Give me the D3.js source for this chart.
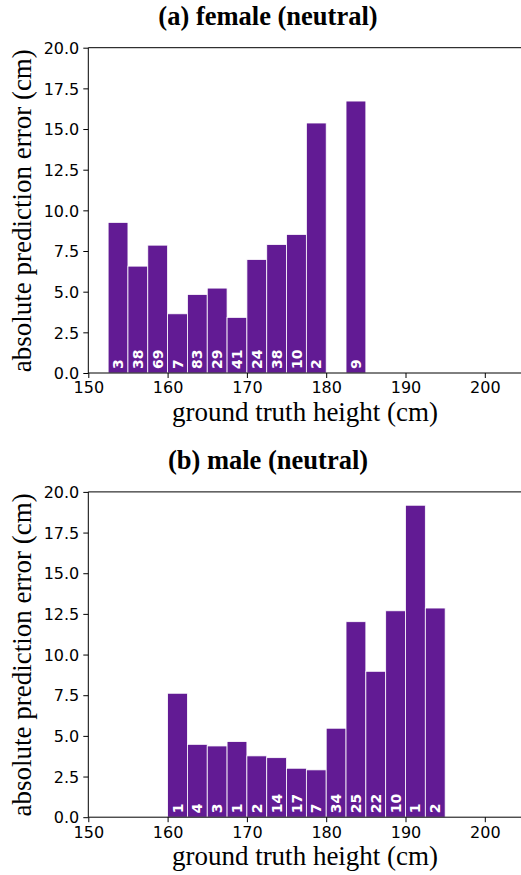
<!DOCTYPE html>
<html>
<head>
<meta charset="utf-8">
<script src="https://cdn.jsdelivr.net/npm/d3@7"></script>
<style>
  body { margin: 0; background: #fff; }
  svg { display: block; }
  .serif { font-family: "Liberation Serif", "DejaVu Serif", serif; }
  .sans { font-family: "DejaVu Sans", sans-serif; }
</style>
</head>
<body>
<svg id="chart" width="521" height="875"></svg>
<script>
// bin left edges (cm), bin width 2.5
const femaleBins = [152.5, 155, 157.5, 160, 162.5, 165, 167.5, 170, 172.5, 175, 177.5, 182.5];
const femaleError = [9.26, 6.57, 7.86, 3.64, 4.83, 5.22, 3.42, 6.98, 7.90, 8.52, 15.37, 16.72];
const femaleCount = [3, 38, 69, 7, 83, 29, 41, 24, 38, 10, 2, 9];

const maleBins = [160, 162.5, 165, 167.5, 170, 172.5, 175, 177.5, 180, 182.5, 185, 187.5, 190, 192.5];
const maleError = [7.62, 4.48, 4.38, 4.65, 3.77, 3.66, 3.01, 2.91, 5.47, 12.02, 8.97, 12.69, 19.18, 12.86];
const maleCount = [1, 4, 3, 1, 2, 14, 17, 7, 34, 25, 22, 10, 1, 2];

const xTicks = [150, 160, 170, 180, 190, 200];
const yTicks = [0, 2.5, 5, 7.5, 10, 12.5, 15, 17.5, 20];
const binWidth = 2.5;

const barColor = "#621b94";
const svg = d3.select("#chart");

function panel(title, bins, errors, counts, top) {
    const left = 88.3;
    const height = 325.3;
    const bottom = top + height;

    const x = d3.scaleLinear().domain([150, 205]).range([left, left + 55 * 7.93]);
    const y = d3.scaleLinear().domain([0, 20]).range([bottom, top]);

    const g = svg.append("g");

    // title
    g.append("text")
        .attr("class", "serif")
        .attr("x", 268)
        .attr("y", top - 23)
        .attr("text-anchor", "middle")
        .attr("font-weight", "bold")
        .attr("font-size", 26.5)
        .text(title);

    const data = bins.map((b, i) => ({ bin: b, err: errors[i], n: counts[i] }));

    g.selectAll(".bar")
        .data(data)
        .enter()
        .append("rect")
        .attr("class", "bar")
        .attr("x", d => x(d.bin))
        .attr("y", d => y(d.err))
        .attr("width", x(binWidth) - x(0))
        .attr("height", d => bottom - y(d.err))
        .attr("fill", barColor)
        .attr("stroke", "#fff")
        .attr("stroke-width", 0.8);

    g.selectAll(".cnt")
        .data(data)
        .enter()
        .append("text")
        .attr("class", "cnt sans")
        .attr("transform", d => `translate(${x(d.bin + binWidth / 2)},${bottom - 4}) rotate(-90)`)
        .attr("dy", "0.36em")
        .attr("fill", "#fff")
        .attr("font-weight", "bold")
        .attr("font-size", 14)
        .text(d => d.n);

    // axes
    const xAxis = g.append("g")
        .attr("transform", `translate(0,${bottom})`)
        .call(d3.axisBottom(x).tickValues(xTicks).tickSize(5).tickPadding(4).tickFormat(d3.format("d")));
    const yAxis = g.append("g")
        .attr("transform", `translate(${left},0)`)
        .call(d3.axisLeft(y).tickValues(yTicks).tickSize(5).tickPadding(4).tickFormat(d3.format(".1f")));

    [xAxis, yAxis].forEach(a => {
        a.attr("font-family", null).attr("font-size", null);
        a.selectAll("text")
            .attr("class", "sans")
            .attr("font-size", 16)
            .attr("fill", "#000");
        a.selectAll("line").attr("stroke", "#000");
        a.select(".domain").remove();
    });
    yAxis.selectAll("text").attr("dy", "0.36em");

    // spines
    g.append("line").attr("x1", left).attr("x2", 521).attr("y1", bottom).attr("y2", bottom).attr("stroke", "#000");
    g.append("line").attr("x1", left).attr("x2", 521).attr("y1", top).attr("y2", top).attr("stroke", "#000");
    g.append("line").attr("x1", left).attr("x2", left).attr("y1", top).attr("y2", bottom).attr("stroke", "#000");

    // axis labels
    g.append("text")
        .attr("class", "serif")
        .attr("x", 305)
        .attr("y", bottom + 48)
        .attr("text-anchor", "middle")
        .attr("font-size", 27)
        .text("ground truth height (cm)");

    g.append("text")
        .attr("class", "serif")
        .attr("transform", `translate(31,${top + 163}) rotate(-90)`)
        .attr("text-anchor", "middle")
        .attr("font-size", 27)
        .text("absolute prediction error (cm)");
}

panel("(a) female (neutral)", femaleBins, femaleError, femaleCount, 47.7);
panel("(b) male (neutral)", maleBins, maleError, maleCount, 491.9);
</script>
</body>
</html>
